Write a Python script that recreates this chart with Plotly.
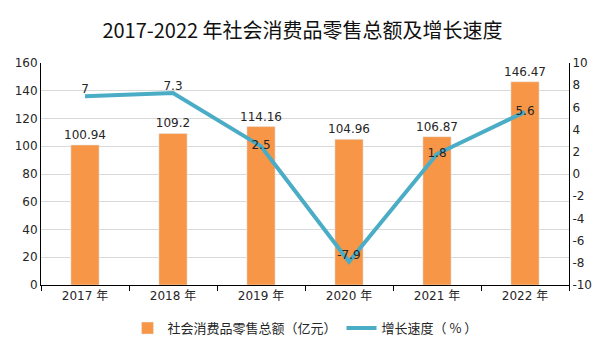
import plotly.graph_objects as go

years = ["2017 年", "2018 年", "2019 年", "2020 年", "2021 年", "2022 年"]
sales = [100.94, 109.2, 114.16, 104.96, 106.87, 146.47]
growth = [7, 7.3, 2.5, -7.9, 1.8, 5.6]
growth_pos = ["top center", "top center", "middle center", "top center", "middle center", "middle center"]
y2_ticks = [-10, -8, -6, -4, -2, 0, 2, 4, 6, 8, 10]

font_family = "DejaVu Sans, Noto Sans CJK SC, sans-serif"

fig = go.Figure()
fig.add_trace(go.Bar(
    x=years, y=sales, name="社会消费品零售总额（亿元）",
    marker_color="#f79646", width=0.32,
    text=[f"{v:g}" for v in sales], textposition="outside", constraintext="none",
    textfont=dict(size=12, color="#262626"), cliponaxis=False,
))
fig.add_trace(go.Scatter(
    x=years, y=growth, name="增长速度（ % ）", yaxis="y2",
    mode="lines+text", line=dict(color="#4bacc6", width=4),
    text=[f"{v:g}" for v in growth], textposition=growth_pos,
    textfont=dict(size=12, color="#262626"), cliponaxis=False,
))

fig.update_layout(
    width=605, height=340,
    margin=dict(l=41, r=36, t=63, b=55, autoexpand=False),
    paper_bgcolor="white", plot_bgcolor="white",
    font=dict(family=font_family, size=12, color="#262626"),
    title=dict(text="2017-2022 年社会消费品零售总额及增长速度", x=0.5, xanchor="center",
               y=0.91, yanchor="middle",
               font=dict(family="Noto Sans CJK SC, sans-serif", size=20, color="#111111", weight=400)),
    xaxis=dict(showline=True, linecolor="black", linewidth=1, ticks="outside",
               tickson="boundaries", ticklen=5, tickcolor="black", showgrid=False),
    yaxis=dict(range=[0, 160], dtick=20, showline=True, linecolor="black", linewidth=1,
               gridcolor="#d9d9d9", zeroline=False, ticks=""),
    yaxis2=dict(range=[-10, 10], tickmode="array", tickvals=y2_ticks,
                ticktext=[str(v) for v in y2_ticks], overlaying="y", side="right", showline=True,
                linecolor="black", linewidth=1, showgrid=False, zeroline=False, ticks=""),
    legend=dict(orientation="h", x=0.5, xanchor="center", yref="container", y=0.035,
                yanchor="middle",
                font=dict(size=13, family="Noto Sans CJK SC, sans-serif")),
    bargap=0.68,
)

fig.write_html("out.html")
